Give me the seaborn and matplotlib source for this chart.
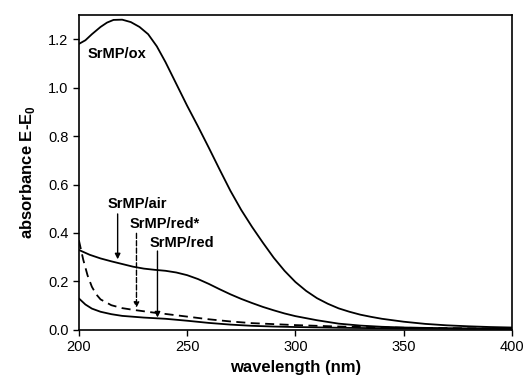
#!/usr/bin/env python3
import pandas as pd
import matplotlib
matplotlib.use("Agg")
import matplotlib.pyplot as plt
import seaborn as sns

# absorbance spectra
wl_ox = [200, 203, 206, 210, 213, 216, 220, 224, 228, 232, 236, 240, 245, 250, 255,
         260, 265, 270, 275, 280, 285, 290, 295, 300, 305, 310, 315, 320, 325, 330,
         335, 340, 350, 360, 370, 380, 390, 400]
abs_ox = [1.18, 1.195, 1.22, 1.25, 1.268, 1.279, 1.28, 1.27, 1.25, 1.22, 1.17, 1.105,
          1.015, 0.925, 0.84, 0.752, 0.662, 0.574, 0.495, 0.425, 0.36, 0.298, 0.244,
          0.198, 0.161, 0.131, 0.108, 0.089, 0.075, 0.063, 0.054, 0.046, 0.034, 0.025,
          0.019, 0.015, 0.012, 0.01]

wl_air = [200, 205, 210, 215, 220, 225, 230, 235, 240, 245, 250, 255, 260, 265, 270,
          275, 280, 285, 290, 295, 300, 310, 320, 330, 340, 350, 370, 400]
abs_air = [0.33, 0.31, 0.295, 0.283, 0.272, 0.261, 0.253, 0.248, 0.244, 0.237, 0.226,
           0.21, 0.19, 0.168, 0.147, 0.128, 0.111, 0.095, 0.081, 0.068, 0.057, 0.04,
           0.026, 0.018, 0.013, 0.01, 0.007, 0.005]

wl_red_star = [200, 202, 204, 206, 208, 210, 215, 220, 225, 230, 235, 240, 250, 260,
               270, 280, 290, 300, 320, 350, 400]
abs_red_star = [0.37, 0.29, 0.225, 0.178, 0.147, 0.126, 0.102, 0.09, 0.083, 0.077, 0.071,
                0.066, 0.055, 0.044, 0.035, 0.028, 0.024, 0.02, 0.014, 0.009, 0.005]

wl_red = [200, 203, 206, 210, 215, 220, 230, 240, 250, 260, 270, 280, 290, 300, 320,
          350, 400]
abs_red = [0.13, 0.105, 0.088, 0.075, 0.065, 0.058, 0.051, 0.046, 0.038, 0.029, 0.022,
           0.017, 0.014, 0.012, 0.009, 0.006, 0.004]

sns.set_theme(style="ticks")
plt.rcParams["font.family"] = ["Liberation Sans", "DejaVu Sans"]
plt.rcParams["mathtext.fontset"] = "custom"
plt.rcParams["mathtext.bf"] = "Liberation Sans:bold"
plt.rcParams["mathtext.rm"] = "Liberation Sans"

fig = plt.figure(figsize=(5.26, 3.9), dpi=100)
ax = fig.add_axes([0.150, 0.154, 0.823, 0.808])

curves = [
    (wl_ox, abs_ox, "-"),
    (wl_air, abs_air, "-"),
    (wl_red_star, abs_red_star, (0, (5, 3))),
    (wl_red, abs_red, "-"),
]
for wl, ab, ls in curves:
    df = pd.DataFrame({"wl": wl, "abs": ab})
    sns.lineplot(data=df, x="wl", y="abs", ax=ax, color="black", linewidth=1.3,
                 linestyle=ls)

ax.set_xlim(200, 400)
ax.set_ylim(0, 1.3)
ax.set_xticks([200, 250, 300, 350, 400])
ax.set_yticks([0.0, 0.2, 0.4, 0.6, 0.8, 1.0, 1.2])
ax.yaxis.set_major_formatter(matplotlib.ticker.FormatStrFormatter("%.1f"))
ax.tick_params(labelsize=10.5, length=4, width=1, color="black", labelcolor="black")
for sp in ax.spines.values():
    sp.set_color("black")
    sp.set_linewidth(1.2)

ax.set_xlabel("wavelength (nm)", fontsize=12, fontweight="bold", color="black")
ax.set_ylabel(r"absorbance E-E$_\mathbf{0}$", fontsize=12, fontweight="bold",
              color="black", labelpad=8)

lab = dict(fontsize=10.5, fontweight="bold", color="black", va="center")
ax.text(204, 1.14, "SrMP/ox", **lab)
ax.annotate("", xy=(217.9, 0.28), xytext=(217.9, 0.49),
            arrowprops=dict(arrowstyle="-|>", color="black", lw=1, mutation_scale=8))
ax.text(213.4, 0.52, "SrMP/air", **lab)
ax.annotate("", xy=(226.6, 0.08), xytext=(226.6, 0.41),
            arrowprops=dict(arrowstyle="-|>", color="black", lw=1, ls="--",
                            mutation_scale=8))
ax.text(223.6, 0.437, "SrMP/red*", **lab)
ax.annotate("", xy=(236.3, 0.04), xytext=(236.3, 0.337),
            arrowprops=dict(arrowstyle="-|>", color="black", lw=1, mutation_scale=8))
ax.text(232.8, 0.36, "SrMP/red", **lab)

fig.savefig("out.png", dpi=100)
